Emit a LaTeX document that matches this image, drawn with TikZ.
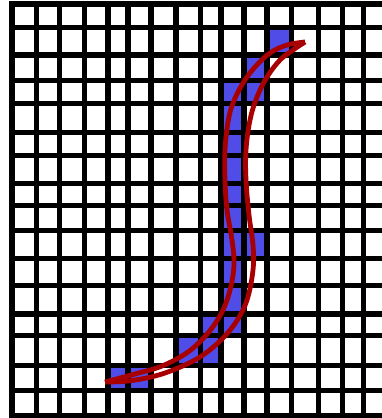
\documentclass[tikz,border=0pt]{standalone}
\definecolor{cellblue}{RGB}{80,76,232}
\definecolor{loopred}{RGB}{168,0,0}
\begin{document}
\begin{tikzpicture}[x=1pt,y=-1pt,
  gridline/.style={line width=5.2pt,black},
  cellfill/.style={fill=cellblue},
  loopstroke/.style={draw=loopred,line width=4.8pt,line join=round}]
\useasboundingbox (0,0) rectangle (382,418);
\fill[white] (0,0) rectangle (382,418);
% blue cells
\fill[cellfill] (267,27.5) rectangle (291.5,55);
\fill[cellfill] (244,55) rectangle (267,80.5);
\fill[cellfill] (221,80.5) rectangle (267,103.5);
\fill[cellfill] (221,103.5) rectangle (244,230.5);
\fill[cellfill] (221,230.5) rectangle (267,258.5);
\fill[cellfill] (221,258.5) rectangle (244,314);
\fill[cellfill] (200.5,314) rectangle (244,335.5);
\fill[cellfill] (176,335.5) rectangle (221,365.5);
\fill[cellfill] (108,365.5) rectangle (151,390.5);
% grid
\draw[gridline,line width=5.8pt] (12,1.2) -- (12,418);
\foreach \x in {36.5,59.5,84.5,108,128,151,176,200.5,221,244,267,291.5,318.5,342.5,363.5}
  \draw[gridline] (\x,1.2) -- (\x,418);
\foreach \y in {4,27.5,55,80.5,103.5,132.5,155.5,183.5,205.5,230.5,258.5,285.5,314,335.5,365.5,390.5,415.5}
  \draw[gridline] (9.1,\y) -- (382,\y);
% red loop
\draw[loopstroke] plot[smooth,tension=0.6] coordinates {(305,42) (287,45) (270,53) (255,67) (243,83) (233,103) (228,122) (225,150) (225,180) (227,210) (232,240) (234,265) (230,290) (222,312) (208,333) (188,352) (162,366) (135,374) (105,382)};
\draw[loopstroke] plot[smooth,tension=0.6] coordinates {(305,42) (293,50) (280,60) (267,77) (257,97) (250,120) (246,150) (246,180) (249,215) (253,245) (253,270) (247,300) (236,322) (220,341) (200,357) (178,368) (155,376) (128,381) (105,382)};
\end{tikzpicture}
\end{document}
